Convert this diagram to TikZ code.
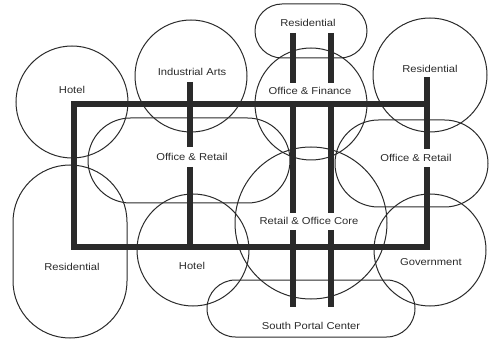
\documentclass[tikz,border=0pt]{standalone}
\usepackage{fontspec}
\newfontfamily\labfont[FakeStretch=1.12]{Liberation Sans}
\definecolor{ink}{HTML}{2A2A2A}
\tikzset{
  zone/.style={draw=ink, line width=1pt, inner sep=0pt, fill=none},
  ring/.style={zone, circle, minimum size=#1},
  pill/.style={zone, rectangle},
  lab/.style={font=\labfont\fontsize{10}{12}\selectfont, text=ink, inner sep=0pt},
  spine/.style={draw=ink, line width=6pt},
}
\begin{document}
\begin{tikzpicture}[x=1pt,y=-1pt]
\useasboundingbox (0,0) rectangle (498,339);
% zones
\node[ring=112pt] (hotelA) at (72,102) {};
\node[ring=112pt] (indarts) at (191,76) {};
\node[pill, minimum width=112pt, minimum height=54pt, rounded corners=27pt] (resTop) at (311,31) {};
\node[ring=112pt] (offfin) at (311,104) {};
\node[ring=114pt] (resTR) at (430,75) {};
\node[pill, minimum width=202pt, minimum height=85pt, rounded corners=42.5pt] (orL) at (189,160.5) {};
\node[pill, minimum width=153pt, minimum height=87pt, rounded corners=43.5pt] (orR) at (411.5,163.5) {};
\node[ring=152pt] (core) at (311,223) {};
\node[pill, minimum width=114pt, minimum height=173pt, rounded corners=57pt] (resBL) at (70,251.5) {};
\node[ring=112pt] (hotelB) at (193,250) {};
\node[ring=112pt] (gov) at (430,250) {};
\node[pill, minimum width=208pt, minimum height=57pt, rounded corners=28.5pt] (spc) at (311,308.5) {};
% labels
\node[lab] (lHotelA) at (72,90) {Hotel};
\node[lab] (lInd) at (192,72) {Industrial Arts};
\node[lab] (lResTop) at (308,23) {Residential};
\node[lab] (lOffFin) at (310,91) {Office \& Finance};
\node[lab] (lResTR) at (430,69) {Residential};
\node[lab] (lOrL) at (192,157) {Office \& Retail};
\node[lab] (lOrR) at (416,158) {Office \& Retail};
\node[lab] (lCore) at (309,221) {Retail \& Office Core};
\node[lab] (lResBL) at (72,267) {Residential};
\node[lab] (lHotelB) at (192,266) {Hotel};
\node[lab] (lGov) at (431,262) {Government};
\node[lab] (lSpc) at (311,326) {South Portal Center};
% spine coordinates
\coordinate (tl) at (74,104);
\coordinate (bl) at (74,247);
\coordinate (tr) at (427,104);
\coordinate (br) at (427,247);
% frame
\draw[spine, line join=miter] (tr) -- (tl) -- (bl) -- (br) -- (427,167);
\draw[spine] (427,77) -- (427,149);
% industrial arts bar
\draw[spine] (190,82) -- (190,147);
\draw[spine] (190,167) -- (190,247);
% core bars
\foreach \bx in {293,331}{
  \draw[spine] (\bx,33) -- (\bx,83);
  \draw[spine] (\bx,101) -- (\bx,213);
  \draw[spine] (\bx,230) -- (\bx,307);
}
\end{tikzpicture}
\end{document}
